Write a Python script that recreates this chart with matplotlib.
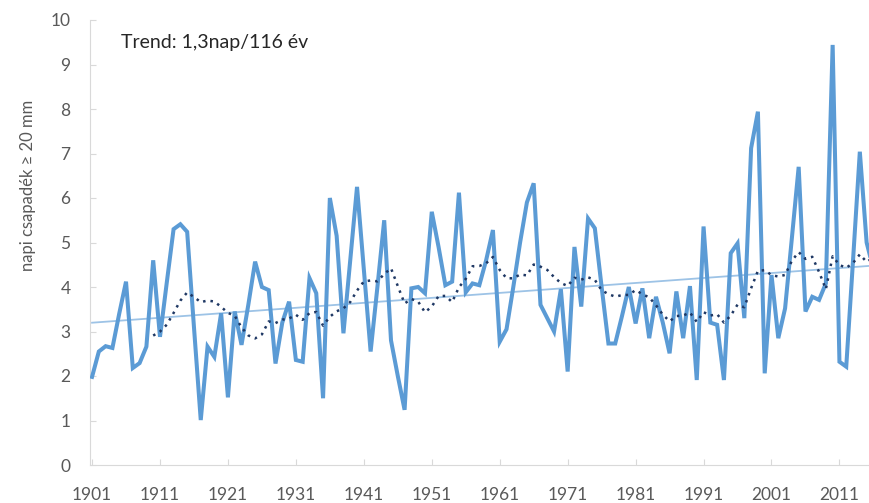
import numpy as np
import pandas as pd
import matplotlib
matplotlib.use("Agg")
import matplotlib.pyplot as plt

plt.rcParams['font.family'] = ['Lato', 'DejaVu Sans']

# napi csapadék >= 20 mm napok száma, évenként
years = np.arange(1901, 2017)
values = [
    1.98, 2.55, 2.67, 2.63, 3.40, 4.12, 2.18, 2.29, 2.66, 4.60,   # 1901-1910
    2.88, 4.10, 5.30, 5.41, 5.24, 3.10, 1.01, 2.66, 2.43, 3.41,   # 1911-1920
    1.52, 3.45, 2.70, 3.60, 4.57, 4.00, 3.93, 2.28, 3.20, 3.67,   # 1921-1930
    2.36, 2.32, 4.20, 3.86, 1.50, 6.00, 5.15, 2.96, 4.60, 6.25,   # 1931-1940
    4.40, 2.55, 4.00, 5.50, 2.80, 2.00, 1.24, 3.97, 4.00, 3.86,   # 1941-1950
    5.69, 4.90, 4.04, 4.12, 6.12, 3.88, 4.08, 4.04, 4.60, 5.28,   # 1951-1960
    2.77, 3.05, 4.00, 5.00, 5.90, 6.33, 3.60, 3.30, 3.00, 3.95,   # 1961-1970
    2.10, 4.90, 3.56, 5.54, 5.32, 4.00, 2.73, 2.73, 3.35, 4.00,   # 1971-1980
    3.18, 3.97, 2.85, 3.78, 3.20, 2.51, 3.90, 2.85, 4.02, 1.91,   # 1981-1990
    5.36, 3.20, 3.15, 1.91, 4.76, 4.98, 3.30, 7.12, 7.94, 2.06,   # 1991-2000
    4.27, 2.85, 3.52, 5.10, 6.70, 3.45, 3.78, 3.71, 4.08, 9.44,   # 2001-2010
    2.32, 2.21, 4.60, 7.04, 5.00, 4.40,                           # 2011-2016
]
tick_years = np.arange(1901, 2012, 10)
trend_text = "Trend: 1,3nap/116 év"
ylabel = "napi csapadék ≥ 20 mm"

vals = np.array(values)
# 10 eves mozgoatlag es linearis trend (mint az Excel trendvonalai)
mozgo = pd.Series(vals, index=years).rolling(10).mean()
coef = np.polyfit(years, vals, 1)
trend = np.polyval(coef, years)

fig = plt.figure(figsize=(8.69, 5.03), dpi=100)
ax = fig.add_axes([90/869, 38/503, 779/869, 445/503])

ax.plot(years, vals, color='#5B9BD5', lw=2.9, solid_joinstyle='miter', zorder=3)
ax.plot(years, trend, color='#9DC3E6', lw=1.3, zorder=2)
ax.plot(mozgo.index, mozgo.values, color='#1F3864', lw=1.8, ls=(0, (1, 2)), zorder=4)

ax.set_xlim(1900.7, 2015.35)
ax.set_ylim(0, 10)
ax.set_xticks(tick_years)
ax.set_yticks(range(0, 11))
ax.tick_params(axis='both', direction='in', colors='#D9D9D9', labelcolor='#595959',
               labelsize=12.5, length=4)
ax.tick_params(axis='x', pad=16)
ax.tick_params(axis='y', pad=14)
for s in ['top', 'right']:
    ax.spines[s].set_visible(False)
for s in ['left', 'bottom']:
    ax.spines[s].set_color('#D9D9D9')

ax.text(1905.2, 9.5, trend_text, fontsize=14, color='#262626', va='center')
fig.text(28/869, 1 - 185/503, ylabel, rotation=90, fontsize=12, color='#595959',
         va='center', ha='center')

fig.savefig('out.png', dpi=100)
